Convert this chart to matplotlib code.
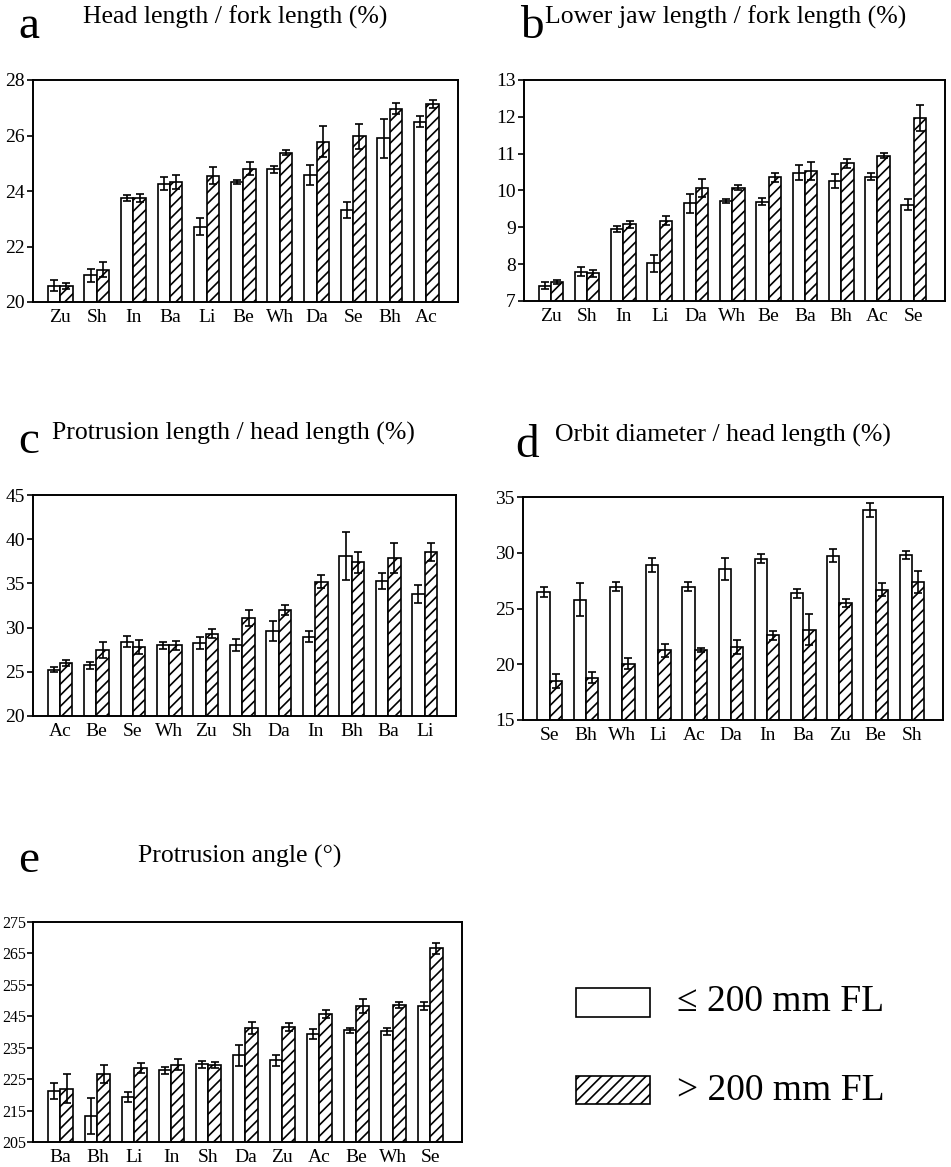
import matplotlib
matplotlib.use('Agg')
import matplotlib.pyplot as plt
from matplotlib.patches import Rectangle
import numpy as np

plt.rcParams['font.family'] = ['Liberation Serif', 'DejaVu Serif']
plt.rcParams['hatch.linewidth'] = 1.2

# ---- Panel a: Head length / fork length (%)
a_cats = ['Zu', 'Sh', 'In', 'Ba', 'Li', 'Be', 'Wh', 'Da', 'Se', 'Bh', 'Ac']
a_small = [20.58, 20.96, 23.75, 24.27, 22.71, 24.33, 24.78, 24.57, 23.31, 25.90, 26.50]
a_small_err = [0.20, 0.24, 0.12, 0.25, 0.30, 0.08, 0.12, 0.35, 0.30, 0.70, 0.20]
a_large = [20.57, 21.17, 23.75, 24.33, 24.55, 24.81, 25.38, 25.78, 25.98, 26.96, 27.14]
a_large_err = [0.10, 0.27, 0.15, 0.25, 0.30, 0.25, 0.10, 0.55, 0.45, 0.20, 0.15]

# ---- Panel b: Lower jaw length / fork length (%)
b_cats = ['Zu', 'Sh', 'In', 'Li', 'Da', 'Wh', 'Be', 'Ba', 'Bh', 'Ac', 'Se']
b_small = [7.42, 7.80, 8.95, 8.02, 9.65, 9.71, 9.70, 10.48, 10.26, 10.38, 9.61]
b_small_err = [0.10, 0.12, 0.08, 0.23, 0.25, 0.05, 0.10, 0.20, 0.20, 0.10, 0.15]
b_large = [7.52, 7.75, 9.08, 9.18, 10.06, 10.08, 10.36, 10.53, 10.74, 10.95, 11.96]
b_large_err = [0.05, 0.10, 0.10, 0.12, 0.25, 0.08, 0.12, 0.25, 0.12, 0.07, 0.35]

# ---- Panel c: Protrusion length / head length (%)
c_cats = ['Ac', 'Be', 'Se', 'Wh', 'Zu', 'Sh', 'Da', 'In', 'Bh', 'Ba', 'Li']
c_small = [25.26, 25.75, 28.40, 28.00, 28.26, 28.00, 29.60, 28.96, 38.10, 35.30, 33.80]
c_small_err = [0.30, 0.40, 0.60, 0.40, 0.70, 0.70, 1.10, 0.60, 2.70, 0.90, 1.00]
c_large = [26.00, 27.45, 27.80, 28.00, 29.30, 31.10, 32.00, 35.20, 37.40, 37.90, 38.55]
c_large_err = [0.30, 0.90, 0.80, 0.50, 0.50, 0.90, 0.60, 0.70, 1.20, 1.70, 1.00]

# ---- Panel d: Orbit diameter / head length (%)
d_cats = ['Se', 'Bh', 'Wh', 'Li', 'Ac', 'Da', 'In', 'Ba', 'Zu', 'Be', 'Sh']
d_small = [26.50, 25.80, 26.95, 28.90, 26.95, 28.55, 29.45, 26.35, 29.75, 33.85, 29.80]
d_small_err = [0.45, 1.50, 0.40, 0.60, 0.40, 1.00, 0.40, 0.40, 0.55, 0.60, 0.35]
d_large = [18.50, 18.80, 20.05, 21.25, 21.30, 21.55, 22.60, 23.10, 25.50, 26.70, 27.40]
d_large_err = [0.60, 0.50, 0.50, 0.60, 0.20, 0.60, 0.40, 1.40, 0.35, 0.60, 1.00]

# ---- Panel e: Protrusion angle (deg)
e_cats = ['Ba', 'Bh', 'Li', 'In', 'Sh', 'Da', 'Zu', 'Ac', 'Be', 'Wh', 'Se']
e_small = [221.2, 213.2, 219.3, 227.8, 229.7, 232.6, 231.0, 239.3, 240.5, 240.2, 248.2]
e_small_err = [2.5, 5.8, 1.5, 1.1, 1.0, 3.3, 1.8, 1.5, 0.8, 1.2, 1.2]
e_large = [222.0, 226.7, 228.5, 229.6, 229.6, 241.3, 241.6, 245.8, 248.2, 248.7, 266.6]
e_large_err = [4.5, 2.8, 1.5, 1.8, 1.0, 1.8, 1.2, 1.2, 2.3, 1.0, 1.8]

W, H = 951, 1167
fig = plt.figure(figsize=(W / 100, H / 100), dpi=100)


def ax_px(l, t, r, b):
    return fig.add_axes([l / W, 1 - b / H, (r - l) / W, (b - t) / H])


def draw(ax, cats, sm, se, lm, le, ylim, yticks, ysize=14):
    x = np.arange(len(cats))
    w = 0.34
    ekw = dict(elinewidth=1.2, capthick=1.2, ecolor='black')
    ax.bar(x - w / 2, sm, w, color='white', edgecolor='black', linewidth=1.2,
           yerr=se, capsize=3, error_kw=ekw)
    ax.bar(x + w / 2, lm, w, color='white', edgecolor='black', linewidth=1.2,
           hatch='///', yerr=le, capsize=3, error_kw=ekw)
    ax.set_ylim(*ylim)
    ax.set_yticks(yticks)
    ax.set_xlim(-0.74, len(cats) - 1 + 0.86)
    ax.set_xticks(x)
    ax.set_xticklabels(cats)
    ax.tick_params(axis='y', direction='out', length=4, width=1.2, labelsize=ysize, pad=2)
    ax.tick_params(axis='x', length=0, labelsize=14, pad=5)
    for s in ax.spines.values():
        s.set_linewidth(1.4)


def ftext(x, y, s, size, **kw):
    fig.text(x / W, 1 - y / H, s, fontsize=size, ha='left', va='baseline', **kw)


axa = ax_px(33, 80, 458, 302)
draw(axa, a_cats, a_small, a_small_err, a_large, a_large_err, (20, 28), [20, 22, 24, 26, 28])
axb = ax_px(524, 80, 945, 301)
draw(axb, b_cats, b_small, b_small_err, b_large, b_large_err, (7, 13), [7, 8, 9, 10, 11, 12, 13])
axc = ax_px(33, 495, 456, 716)
draw(axc, c_cats, c_small, c_small_err, c_large, c_large_err, (20, 45), [20, 25, 30, 35, 40, 45])
axd = ax_px(523, 497, 943, 720)
draw(axd, d_cats, d_small, d_small_err, d_large, d_large_err, (15, 35), [15, 20, 25, 30, 35])
axe = ax_px(33, 922, 462, 1142)
draw(axe, e_cats, e_small, e_small_err, e_large, e_large_err, (205, 275),
     [205, 215, 225, 235, 245, 255, 265, 275], ysize=11.5)
axe.tick_params(axis='y', pad=1)

# panel letters and titles
ftext(18, 38, 'a', 34)
ftext(83, 24, 'Head length / fork length (%)', 18.5)
ftext(520, 38, 'b', 34)
ftext(545, 24, 'Lower jaw length / fork length (%)', 18.5)
ftext(18, 453, 'c', 34)
ftext(52, 440, 'Protrusion length / head length (%)', 18.5)
ftext(515, 457, 'd', 34)
ftext(555, 442, 'Orbit diameter / head length (%)', 18.5)
ftext(18, 872, 'e', 34)
ftext(138, 863, 'Protrusion angle (°)', 18.5)

# legend
fig.patches.append(Rectangle((576 / W, 1 - 1017 / H), 74 / W, 29 / H, transform=fig.transFigure,
                             facecolor='white', edgecolor='black', linewidth=1.2))
fig.patches.append(Rectangle((576 / W, 1 - 1104 / H), 74 / W, 28 / H, transform=fig.transFigure,
                             facecolor='white', edgecolor='black', linewidth=1.2, hatch='///'))
ftext(677, 1011, '≤ 200 mm FL', 27)
ftext(677, 1100, '> 200 mm FL', 27)

fig.savefig('out.png', dpi=100)
